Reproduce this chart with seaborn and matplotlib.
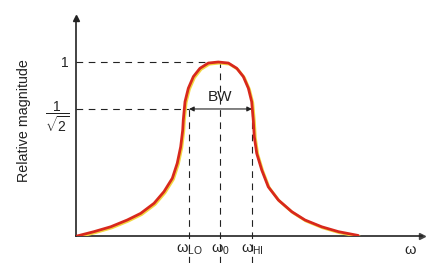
import numpy as np
import pandas as pd
import matplotlib
matplotlib.use("Agg")
import matplotlib.pyplot as plt
import matplotlib.transforms as mtransforms
import seaborn as sns

# ---- data (omega in units of omega_0) ----
omega = [0.007, 0.125, 0.241, 0.356, 0.449, 0.542, 0.611, 0.669, 0.703, 0.727,
         0.741, 0.745, 0.757, 0.780, 0.815, 0.861, 0.919, 0.988, 1.058, 1.116,
         1.162, 1.197, 1.220, 1.231, 1.238, 1.255, 1.290, 1.335, 1.405, 1.498,
         1.590, 1.706, 1.822, 1.960]
magnitude = [0.000, 0.025, 0.053, 0.092, 0.130, 0.188, 0.255, 0.332, 0.418, 0.513,
             0.609, 0.667, 0.772, 0.849, 0.916, 0.964, 0.994, 1.000, 0.994, 0.964,
             0.916, 0.849, 0.772, 0.667, 0.571, 0.475, 0.379, 0.283, 0.207, 0.140,
             0.092, 0.053, 0.025, 0.003]
w_lo, w_0, w_hi = 0.785, 1.0, 1.222
w_axis_label = 2.32
half_power = 0.73
peak = 1.0
xtick_pos = [w_lo, w_0, w_hi, w_axis_label]
xtick_labels = [r'$\mathrm{\omega_{LO}}$', r'$\mathrm{\omega_{0}}$',
                r'$\mathrm{\omega_{HI}}$', r'$\mathrm{\omega}$']
ytick_pos = [half_power, peak]
ytick_labels = [r'$\dfrac{1}{\sqrt{2}}$', '1']

df = pd.DataFrame({"omega": omega, "mag": magnitude})

sns.set_theme(style="white")
plt.rcParams['font.family'] = ['Liberation Sans', 'DejaVu Sans']
plt.rcParams['mathtext.fontset'] = 'custom'
plt.rcParams['mathtext.rm'] = 'Liberation Sans'
plt.rcParams['mathtext.it'] = 'Liberation Sans:italic'
plt.rcParams['mathtext.bf'] = 'Liberation Sans:bold'

W, H = 431, 263
fig = plt.figure(figsize=(W / 100, H / 100), dpi=100)
x0, y0, x1, y1 = 76, 236, 422, 18
sx, sy = 144.0, 174.0
ax = fig.add_axes([x0 / W, (H - y0) / H, (x1 - x0) / W, (y0 - y1) / H])
ax.set_xlim(0, (x1 - x0) / sx)
ax.set_ylim(0, (y0 - y1) / sy)

# curve with a faint yellow shadow
shadow = mtransforms.offset_copy(ax.transData, fig=fig, x=0.8, y=-0.8, units='points')
ax.plot(df.omega, df.mag, color='#f2d640', lw=2.0, transform=shadow, zorder=3,
        solid_capstyle='round', solid_joinstyle='round')
sns.lineplot(data=df, x="omega", y="mag", sort=False, color='#d8281c', lw=2.0,
             ax=ax, zorder=4, solid_joinstyle='round')

dash = dict(color='#222222', lw=0.8, dashes=(6, 5))
# horizontal reference levels
ax.plot([0, 0.90], [peak, peak], **dash)
ax.plot([0, w_lo], [half_power, half_power], **dash)
# vertical reference lines extending below the axis
ybot = -(H - y0) / sy
ax.plot([w_lo, w_lo], [ybot, half_power], clip_on=False, **dash)
ax.plot([w_0, w_0], [ybot, peak], clip_on=False, **dash)
ax.plot([w_hi, w_hi], [ybot, half_power], clip_on=False, **dash)

# bandwidth arrow
ax.annotate('', xy=(w_lo, half_power), xytext=(w_hi, half_power),
            arrowprops=dict(arrowstyle='<|-|>', color='#222222', lw=0.8,
                            shrinkA=0, shrinkB=0, mutation_scale=7))
ax.text(w_0, half_power + 0.03, 'BW', ha='center', va='bottom', fontsize=11,
        color='#222222')

# axes with arrowheads
for s in ['top', 'right']:
    ax.spines[s].set_visible(False)
for s in ['left', 'bottom']:
    ax.spines[s].set_color('#222222')
    ax.spines[s].set_linewidth(1.2)
ax.plot(1, 0, '>', color='#444444', ms=5, transform=ax.transAxes, clip_on=False)
ax.plot(0, 1, '^', color='#222222', ms=5, transform=ax.transAxes, clip_on=False)

ax.set_xticks(xtick_pos)
ax.set_xticklabels(xtick_labels, fontsize=10.5)
ax.set_yticks(ytick_pos)
ax.set_yticklabels(ytick_labels, fontsize=10)
ax.tick_params(length=0, pad=5, colors='#222222')
for lbl in ax.get_xticklabels():
    lbl.set_bbox(dict(facecolor='white', edgecolor='none', pad=0.5))
ax.set_xlabel('')
ax.set_ylabel('Relative magnitude', fontsize=10.3, color='#222222')
ax.yaxis.set_label_coords(-45 / (x1 - x0), (y0 - 121) / (y0 - y1))

fig.savefig('out.png', dpi=100, facecolor='white')
